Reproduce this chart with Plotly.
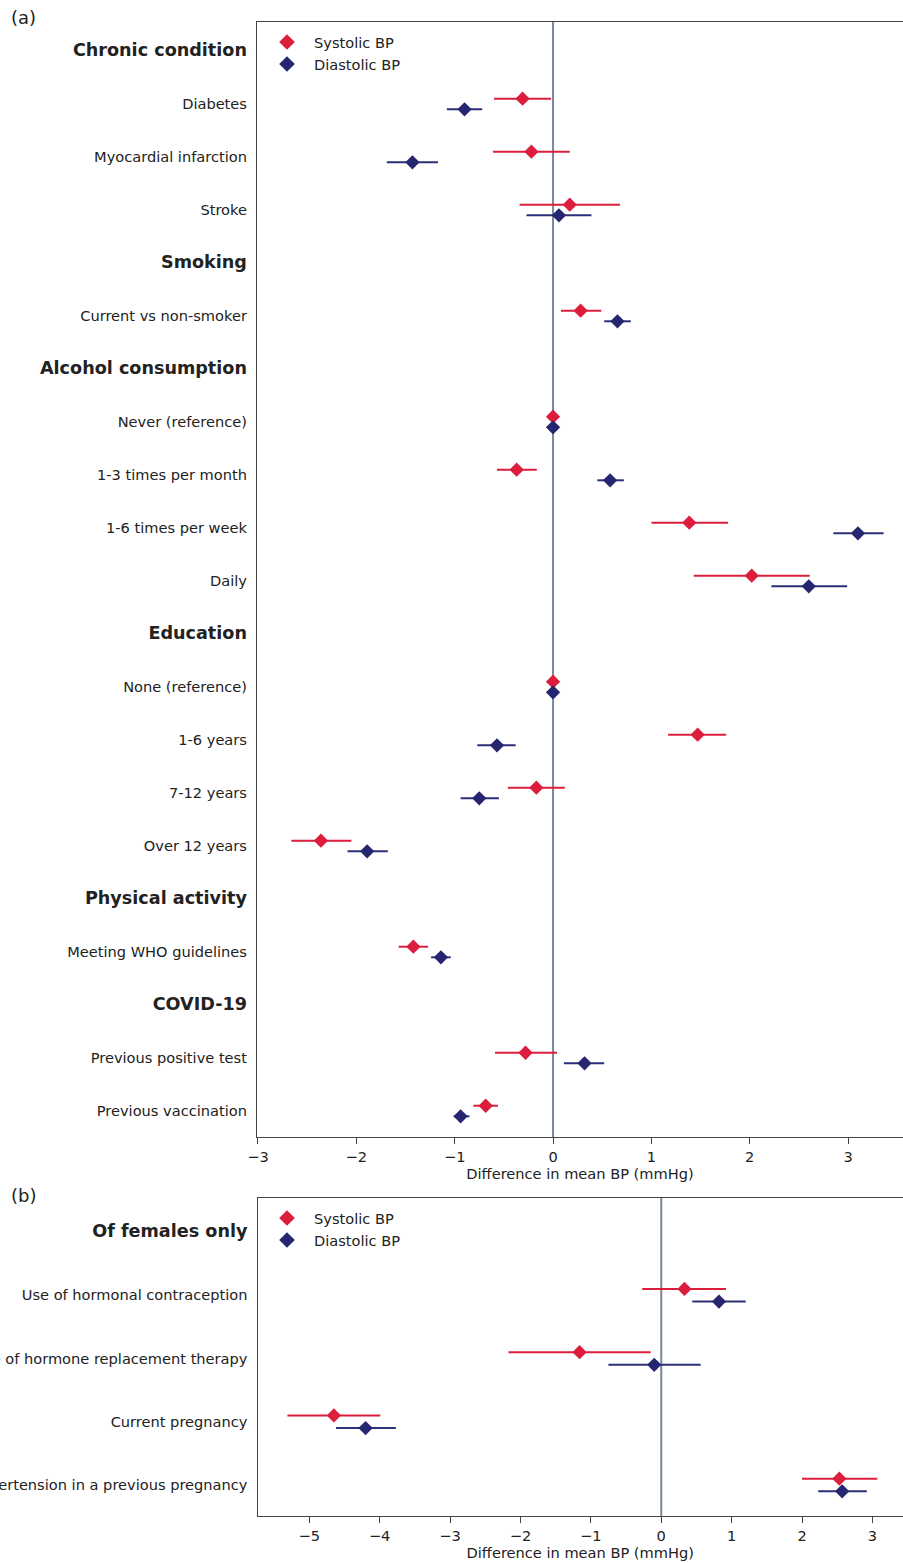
import plotly.graph_objects as go

W, H = 903, 1563

# ---------------- Panel (a) data ----------------
labels_a = ["Chronic condition", "Diabetes", "Myocardial infarction", "Stroke",
            "Smoking", "Current vs non-smoker",
            "Alcohol consumption", "Never (reference)", "1-3 times per month",
            "1-6 times per week", "Daily",
            "Education", "None (reference)", "1-6 years", "7-12 years", "Over 12 years",
            "Physical activity", "Meeting WHO guidelines",
            "COVID-19", "Previous positive test", "Previous vaccination"]
headings_a = ["Chronic condition", "Smoking", "Alcohol consumption", "Education",
              "Physical activity", "COVID-19"]

cats_a = ["Diabetes", "Myocardial infarction", "Stroke", "Current vs non-smoker",
          "Never (reference)", "1-3 times per month", "1-6 times per week", "Daily",
          "None (reference)", "1-6 years", "7-12 years", "Over 12 years",
          "Meeting WHO guidelines", "Previous positive test", "Previous vaccination"]
sys_a = [-0.31, -0.22, 0.17, 0.28, 0.0, -0.37, 1.385, 2.02, 0.0, 1.47, -0.17, -2.36, -1.42, -0.28, -0.685]
sys_lo_a = [-0.60, -0.61, -0.34, 0.08, 0.0, -0.57, 1.00, 1.43, 0.0, 1.17, -0.46, -2.66, -1.57, -0.59, -0.81]
sys_hi_a = [-0.02, 0.17, 0.68, 0.49, 0.0, -0.165, 1.78, 2.61, 0.0, 1.76, 0.12, -2.05, -1.27, 0.04, -0.56]
dia_a = [-0.90, -1.43, 0.06, 0.655, 0.0, 0.58, 3.10, 2.60, 0.0, -0.57, -0.75, -1.89, -1.14, 0.32, -0.94]
dia_lo_a = [-1.08, -1.69, -0.27, 0.52, 0.0, 0.45, 2.85, 2.22, 0.0, -0.77, -0.94, -2.09, -1.24, 0.11, -1.01]
dia_hi_a = [-0.72, -1.17, 0.39, 0.79, 0.0, 0.72, 3.36, 2.99, 0.0, -0.38, -0.55, -1.68, -1.04, 0.52, -0.85]

# ---------------- Panel (b) data ----------------
labels_b = ["Of females only", "Use of hormonal contraception",
            "Use of hormone replacement therapy", "Current pregnancy",
            "Hypertension in a previous pregnancy"]
headings_b = ["Of females only"]
cats_b = labels_b[1:]
sys_b = [0.33, -1.16, -4.65, 2.53]
sys_lo_b = [-0.27, -2.17, -5.31, 2.00]
sys_hi_b = [0.92, -0.15, -3.99, 3.07]
dia_b = [0.82, -0.10, -4.20, 2.57]
dia_lo_b = [0.44, -0.75, -4.62, 2.23]
dia_hi_b = [1.20, 0.56, -3.77, 2.92]

xticks_a = [-3, -2, -1, 0, 1, 2, 3]
xticks_b = [-5, -4, -3, -2, -1, 0, 1, 2, 3]

RED = "#dc1e3c"
NAVY = "#262670"
NAVY_BAR = "#2b3079"
OFF = 0.1
FS = 14.6

fig = go.Figure()


def add_panel(labels, cats, s, slo, shi, d, dlo, dhi, xa, ya, legend):
    pos = {lab: i for i, lab in enumerate(labels)}
    ys = [pos[c] - OFF for c in cats]
    yd = [pos[c] + OFF for c in cats]
    fig.add_trace(go.Scatter(
        x=s, y=ys, mode="markers", name="Systolic BP",
        marker=dict(symbol="diamond", size=11, color=RED),
        error_x=dict(type="data", symmetric=False,
                     array=[h - v for h, v in zip(shi, s)],
                     arrayminus=[v - l for v, l in zip(s, slo)],
                     color=RED, thickness=2, width=0),
        xaxis=xa, yaxis=ya, legend=legend, showlegend=True))
    fig.add_trace(go.Scatter(
        x=d, y=yd, mode="markers", name="Diastolic BP",
        marker=dict(symbol="diamond", size=11, color=NAVY),
        error_x=dict(type="data", symmetric=False,
                     array=[h - v for h, v in zip(dhi, d)],
                     arrayminus=[v - l for v, l in zip(d, dlo)],
                     color=NAVY_BAR, thickness=2, width=0),
        xaxis=xa, yaxis=ya, legend=legend, showlegend=True))


add_panel(labels_a, cats_a, sys_a, sys_lo_a, sys_hi_a, dia_a, dia_lo_a, dia_hi_a, "x", "y", "legend")
add_panel(labels_b, cats_b, sys_b, sys_lo_b, sys_hi_b, dia_b, dia_lo_b, dia_hi_b, "x2", "y2", "legend2")


def ticktext(labels, heads):
    return [f"<b><span style='font-size:17.6px'>{l}</span></b>" if l in heads else l for l in labels]


axis_common = dict(showgrid=False, zeroline=False, showline=True, linecolor="#444444",
                   linewidth=1.3, automargin=False)

legend_common = dict(xanchor="left", yanchor="top", bgcolor="rgba(255,255,255,0)",
                     font=dict(size=FS), tracegroupgap=0, itemwidth=44,
                     itemsizing="constant")

fig.update_layout(
    width=W, height=H, template="none", autosize=False,
    paper_bgcolor="white", plot_bgcolor="white",
    margin=dict(l=0, r=0, t=0, b=0),
    font=dict(family="DejaVu Sans", size=FS, color="#222222"),
    xaxis=dict(domain=[257 / W, 1], range=[-3.01, 3.558], tickvals=xticks_a,
               ticks="outside", ticklen=6, tickcolor="#444444", mirror=True,
               anchor="y", title=dict(text="Difference in mean BP (mmHg)", standoff=4,
                                      font=dict(size=FS)),
               **axis_common),
    yaxis=dict(domain=[1 - 1137 / H, 1 - 22 / H], range=[20.49, -0.547],
               tickvals=list(range(len(labels_a))), ticktext=ticktext(labels_a, headings_a),
               ticks="outside", ticklen=6, tickcolor="rgba(0,0,0,0)", anchor="x",
               **axis_common),
    xaxis2=dict(domain=[257.5 / W, 1], range=[-5.735, 3.434], tickvals=xticks_b,
                ticks="outside", ticklen=6, tickcolor="#444444", mirror=True,
                anchor="y2", title=dict(text="Difference in mean BP (mmHg)", standoff=4,
                                        font=dict(size=FS)),
                **axis_common),
    yaxis2=dict(domain=[1 - 1516 / H, 1 - 1198 / H], range=[4.49, -0.538],
                tickvals=list(range(len(labels_b))), ticktext=ticktext(labels_b, headings_b),
                ticks="outside", ticklen=6, tickcolor="rgba(0,0,0,0)", anchor="x2",
                **axis_common),
    legend=dict(x=260 / W, y=1 - 26 / H, **legend_common),
    legend2=dict(x=260 / W, y=1 - 1202 / H, **legend_common),
    showlegend=True,
)

fig.add_shape(type="line", xref="x", yref="y domain", x0=0, x1=0, y0=0, y1=1,
              line=dict(color="#778899", width=2), layer="below")
fig.add_shape(type="line", xref="x2", yref="y2 domain", x0=0, x1=0, y0=0, y1=1,
              line=dict(color="#778899", width=2), layer="below")

fig.add_annotation(text="(a)", xref="paper", yref="paper", x=9 / W, y=1 - 18 / H,
                   xanchor="left", yanchor="middle", showarrow=False, font=dict(size=18))
fig.add_annotation(text="(b)", xref="paper", yref="paper", x=9 / W, y=1 - 1195 / H,
                   xanchor="left", yanchor="middle", showarrow=False, font=dict(size=18))

fig.write_html("out.html", config={"displayModeBar": False},
               post_script="document.body.style.margin='0px';"
                           "document.body.style.overflow='hidden';")
